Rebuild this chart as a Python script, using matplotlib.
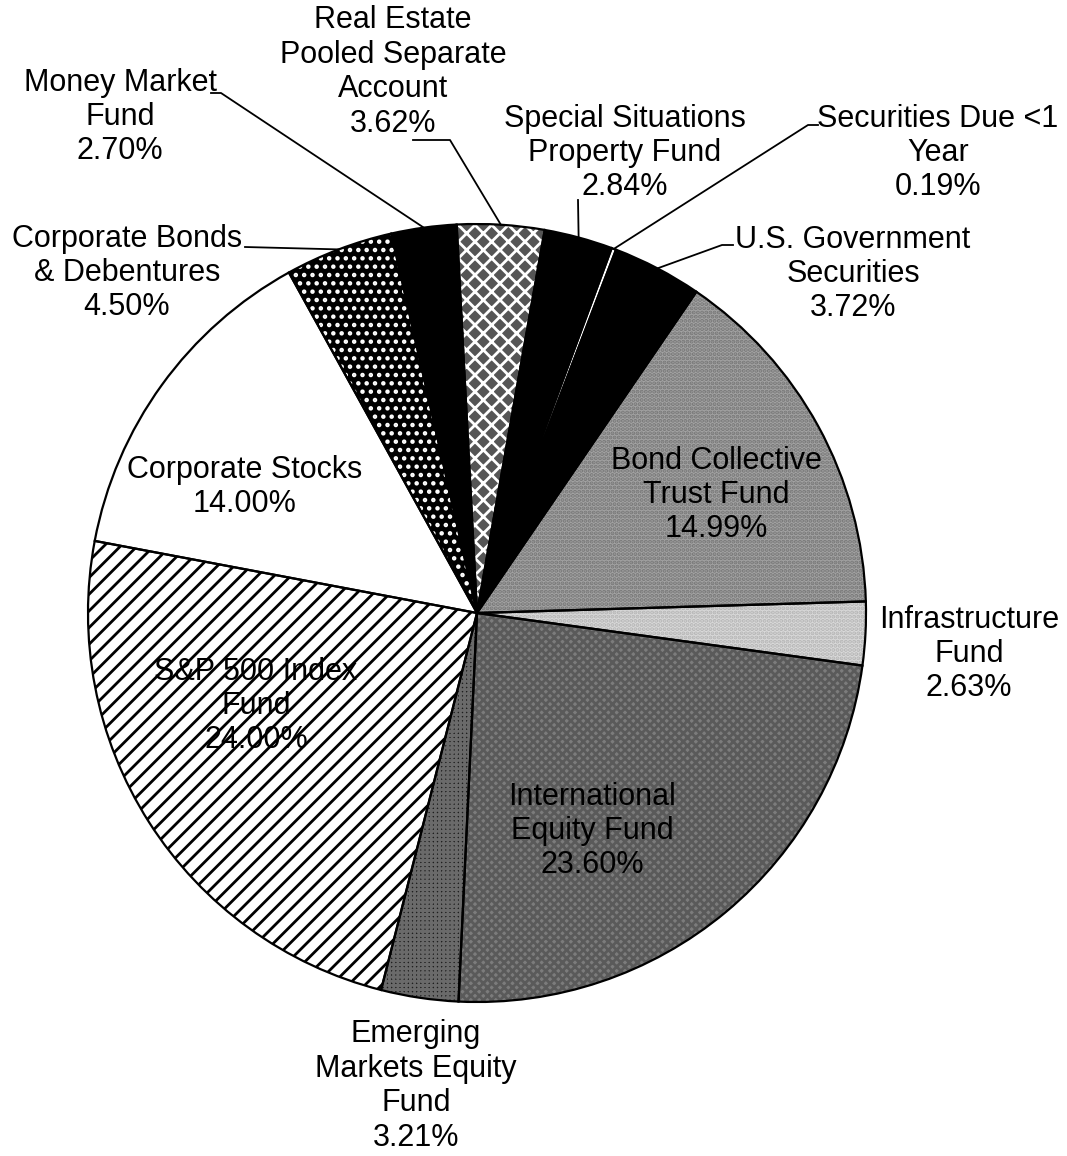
import numpy as np
import matplotlib
matplotlib.use("Agg")
import matplotlib.pyplot as plt
from matplotlib.patches import Wedge

plt.rcParams["font.family"] = ["Liberation Sans", "DejaVu Sans"]
plt.rcParams["hatch.linewidth"] = 2.0

W, H = 1067, 1156

names = [
    "Real Estate\nPooled Separate\nAccount",
    "Special Situations\nProperty Fund",
    "Securities Due <1\nYear",
    "U.S. Government\nSecurities",
    "Bond Collective\nTrust Fund",
    "Infrastructure\nFund",
    "International\nEquity Fund",
    "Emerging\nMarkets Equity\nFund",
    "S&P 500 Index\nFund",
    "Corporate Stocks",
    "Corporate Bonds\n& Debentures",
    "Money Market\nFund",
]
shares = [3.62, 2.84, 0.19, 3.72, 14.99, 2.63, 23.60, 3.21, 24.00, 14.00, 4.50, 2.70]

# fill, hatch, hatch colour for each slice (greyscale print look)
fills = ["#555555", "black", "white", "black", "#a3a3a3", "#d9d9d9",
         "#7c7c7c", "#1e1e1e", "white", "white", "black", "black"]
hatches = ["xx", None, None, None, "....", "....", "xxxx", "++++", "//", None, "..", None]
hatch_cols = ["white", None, None, None, "#777777", "#b5b5b5",
              "#5a5a5a", "#6a6a6a", "black", None, "white", None]

# label centres in pixel coords (x, y from top)
label_pos = [(393, 72), (625, 153), (938, 153), (853, 274), (716, 495), (969, 654),
             (592, 831), (416, 1086), (256, 706), (245, 487), (127, 273), (120, 117)]
# leader line start + elbow (pixel coords); None = no leader
leaders = [
    [(413, 140), (450, 140)],
    [(578, 200)],
    [(818, 125), (808, 125)],
    [(733, 245), (722, 245)],
    None, None, None, None, None, None,
    [(245, 247)],
    [(211, 93), (221, 93)],
]

cx, cy, r = 477, 613, 389


def fy(y):
    return H - y


fig = plt.figure(figsize=(W / 100, H / 100), dpi=100)
ax = fig.add_axes([0, 0, 1, 1])

wedges, _ = ax.pie(shares, colors=fills, startangle=93, counterclock=False,
                   center=(cx, fy(cy)), radius=r,
                   wedgeprops=dict(linewidth=0, edgecolor="none"))

for w, h, hc in zip(wedges, hatches, hatch_cols):
    if h:
        ax.add_patch(Wedge(w.center, w.r, w.theta1, w.theta2, facecolor="none",
                           edgecolor=hc, linewidth=0, hatch=h, zorder=2))
    ax.add_patch(Wedge(w.center, w.r, w.theta1, w.theta2, facecolor="none",
                       edgecolor="black", linewidth=1.6, zorder=3))

for w, name, v, (tx, ty), ld in zip(wedges, names, shares, label_pos, leaders):
    ax.text(tx, fy(ty), f"{name}\n{v:.2f}%", ha="center", va="center",
            fontsize=22, linespacing=1.19, zorder=5)
    if ld:
        mid = np.deg2rad((w.theta1 + w.theta2) / 2)
        ex = w.center[0] + w.r * np.cos(mid)
        ey = w.center[1] + w.r * np.sin(mid)
        xs = [p[0] for p in ld] + [ex]
        ys = [fy(p[1]) for p in ld] + [ey]
        ax.plot(xs, ys, color="black", linewidth=1.3, zorder=4)

ax.set_xlim(0, W)
ax.set_ylim(0, H)
ax.set_aspect("equal")
ax.axis("off")

fig.savefig("out.png", dpi=100)
plt.close(fig)
